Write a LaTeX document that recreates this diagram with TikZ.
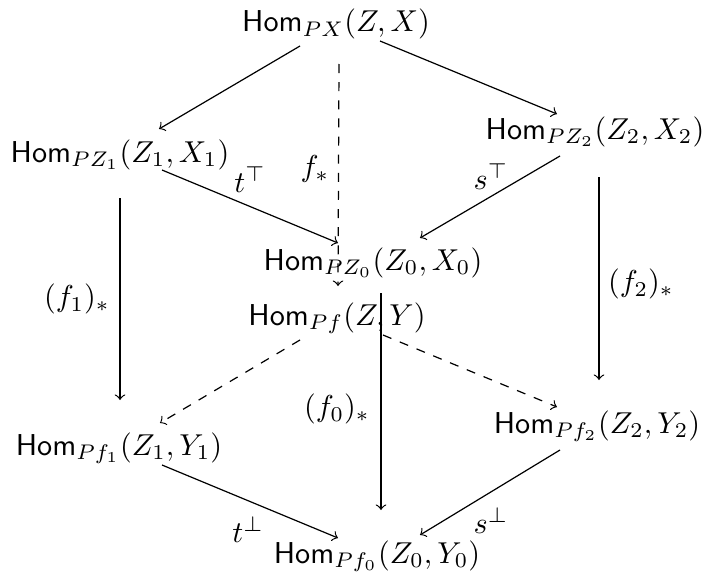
\documentclass[tikz,border=0pt]{standalone}
\usetikzlibrary{calc}
\begin{document}
\begin{tikzpicture}[x=0.331pt,y=-0.331pt,
  obj/.style={anchor=base,inner sep=0pt},
  lbl/.style={inner sep=0pt},
  arr/.style={->},
  darr/.style={->,dashed}]
\useasboundingbox (0,0) rectangle (705,575);
\node[obj] (top) at (336,32) {$\mathsf{Hom}_{PX}(Z,X)$};
\node[obj] (z1) at (120,162) {$\mathsf{Hom}_{PZ_1}(Z_1,X_1)$};
\node[obj] (z2) at (595,139) {$\mathsf{Hom}_{PZ_2}(Z_2,X_2)$};
\node[obj] (z0) at (373,270) {$\mathsf{Hom}_{PZ_0}(Z_0,X_0)$};
\node[obj] (pf) at (337,325) {$\mathsf{Hom}_{Pf}(Z,Y)$};
\node[obj] (f1) at (119,455) {$\mathsf{Hom}_{Pf_1}(Z_1,Y_1)$};
\node[obj] (f2) at (597,433) {$\mathsf{Hom}_{Pf_2}(Z_2,Y_2)$};
\node[obj] (f0) at (377,563) {$\mathsf{Hom}_{Pf_0}(Z_0,Y_0)$};
\draw[arr] ($(top.base)+(-36,14)$) -- ($(z1.base)+(39,-33)$);
\draw[arr] ($(top.base)+(44,9)$) -- ($(z2.base)+(-38,-25)$);
\draw[darr] ($(top.base)+(3,32)$) -- ($(pf.base)+(1,-39)$);
\draw[arr] ($(z1.base)+(42,8)$) -- ($(z0.base)+(-35,-27)$);
\draw[arr] ($(z2.base)+(-35,17)$) -- ($(z0.base)+(47,-32)$);
\draw[arr] ($(z1.base)+(0,36)$) -- ($(f1.base)+(1,-55)$);
\draw[arr] ($(z2.base)+(4,38)$) -- ($(f2.base)+(2,-53)$);
\draw[arr] ($(z0.base)+(8,23)$) -- ($(f0.base)+(4,-53)$);
\draw[darr] ($(pf.base)+(-37,15)$) -- ($(f1.base)+(41,-32)$);
\draw[darr] ($(pf.base)+(46,10)$) -- ($(f2.base)+(-40,-26)$);
\draw[arr] ($(f1.base)+(43,10)$) -- ($(f0.base)+(-39,-25)$);
\draw[arr] ($(f2.base)+(-37,17)$) -- ($(f0.base)+(43,-28)$);
\node[lbl] (lfs) at (315,169) {$f_*$};
\node[lbl] (ltt) at (250,180) {$t^\top$};
\node[lbl] (lst) at (491,177) {$s^\top$};
\node[lbl] (lf1) at (77,299) {$(f_1)_*$};
\node[lbl] (lf2) at (641,284) {$(f_2)_*$};
\node[lbl] (lf0) at (337,409) {$(f_0)_*$};
\node[lbl] (ltb) at (248,530) {$t^\perp$};
\node[lbl] (lsb) at (491,521) {$s^\perp$};
\end{tikzpicture}
\end{document}
